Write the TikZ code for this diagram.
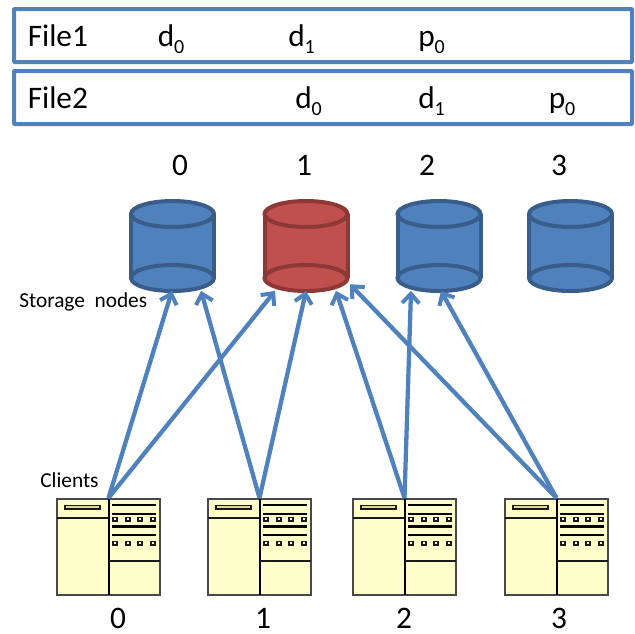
\documentclass[tikz,border=0pt]{standalone}
\usepackage{fontspec}
\setmainfont{Carlito}
\usetikzlibrary{arrows.meta}
\definecolor{fileblue}{HTML}{4F81BD}
\definecolor{cylblue}{HTML}{4F81BD}
\definecolor{cylblueE}{HTML}{385D8A}
\definecolor{cylred}{HTML}{C0504D}
\definecolor{cylredE}{HTML}{8C3836}
\definecolor{clientfill}{HTML}{FFFFCC}
\definecolor{slotfill}{HTML}{DDDD99}
\definecolor{clientedge}{HTML}{1A1A1A}
\newcommand\sbs[1]{\raisebox{-0.23em}{\fontsize{15pt}{16pt}\selectfont #1}}
\newcommand\cyl[4]{%
  \node[minimum width=62.5pt,minimum height=67pt,inner sep=0pt] (#1) at (#2,246) {};
  \fill[#3] (#2-41.5,214) rectangle (#2+41.5,278);
  \draw[cyledge,draw=#4,fill=#3] (#2,278) ellipse [x radius=41.5,y radius=13];
  \draw[cyledge,draw=#4] (#2-41.5,214) -- (#2-41.5,278) (#2+41.5,214) -- (#2+41.5,278);
  \draw[cyledge,draw=#4,fill=#3] (#2,214) ellipse [x radius=41.5,y radius=13];
}
\newcommand\client[2]{%
  \node[clientbox] (#1) at (#2+51.5,547) {};
  \draw[clientline] (#2+52,499) -- (#2+52,595);
  \draw[clientthin] (#2,518) -- (#2+52,518);
  \draw[clientthin] (#2+52,561) -- (#2+103,561);
  \draw[clientthin,fill=slotfill,line width=1.1pt] (#2+8,505.5) rectangle (#2+43,509);
  \foreach \yy in {505,514,526.5,535}
    \draw[clientline,line width=2.1pt] (#2+55,\yy) -- (#2+99,\yy);
  \foreach \yy in {519,543}
    \foreach \xx in {57,70,82,95}
      \draw[clientthin,line width=1.3pt,fill=clientfill] (#2+\xx-1,\yy-1.5) rectangle (#2+\xx+3,\yy+2);
}
\tikzset{
  filebox/.style={draw=fileblue,line width=3pt,rounded corners=0.6pt},
  cyledge/.style={line width=3pt},
  clientbox/.style={draw=clientedge!80!white,fill=clientfill,line width=1.5pt,minimum width=77.25pt,minimum height=72pt,inner sep=0pt},
  clientline/.style={draw=black,line width=1.7pt},
  clientthin/.style={draw=clientedge,line width=1.4pt},
  link/.style={draw=fileblue,line width=3.2pt,-{Straight Barb[length=7pt,width=13pt,line width=3pt]}},
  lab/.style={anchor=base,inner sep=0pt,font=\fontsize{23.5pt}{26pt}\selectfont},
  labw/.style={anchor=base west,inner sep=0pt,font=\fontsize{23.5pt}{26pt}\selectfont},
  small/.style={anchor=base west,inner sep=0pt,font=\fontsize{16pt}{18pt}\selectfont}
}
\begin{document}
\begin{tikzpicture}[x=0.75pt,y=-0.75pt]
\useasboundingbox (0,0) rectangle (635,633);
\draw[filebox] (14,9) rectangle (632,62);
\draw[filebox] (14,71) rectangle (632,124);
\node[labw] (f1) at (27.5,46) {File1};
\node[labw] (f1a) at (157.5,46) {d\sbs{0}};
\node[labw] (f1b) at (288,46) {d\sbs{1}};
\node[labw] (f1c) at (418,46) {p\sbs{0}};
\node[labw] (f2) at (27.5,108) {File2};
\node[labw] (f2a) at (295,108) {d\sbs{0}};
\node[labw] (f2b) at (418,108) {d\sbs{1}};
\node[labw] (f2c) at (548.5,108) {p\sbs{0}};
\node[lab] (n0) at (180,175) {0};
\node[lab] (n1) at (304,175) {1};
\node[lab] (n2) at (427,175) {2};
\node[lab] (n3) at (559,175) {3};
\cyl{s0}{172.5}{cylblue}{cylblueE}
\cyl{s1}{306}{cylred}{cylredE}
\cyl{s2}{439}{cylblue}{cylblueE}
\cyl{s3}{570.5}{cylblue}{cylblueE}
\node[small] (sn) at (19,307) {Storage\ \ nodes};
\node[small] (cl) at (40,487) {Clients};
\client{c0}{57}
\client{c1}{208}
\client{c2}{353}
\client{c3}{505}
\node[lab] (m0) at (118,628) {0};
\node[lab] (m1) at (263,628) {1};
\node[lab] (m2) at (404,628) {2};
\node[lab] (m3) at (559,628) {3};
\draw[link] (c0.north) -- ([xshift=-0.4pt]s0.south);
\draw[link] (c0.north) -- ([xshift=-23.2pt]s1.south);
\draw[link] (c1.north) -- ([xshift=21.4pt]s0.south);
\draw[link] (c1.north) -- (s1.south);
\draw[link] (c2.north) -- ([xshift=22.5pt]s1.south);
\draw[link] (c2.north) -- ([xshift=-21pt]s2.south);
\draw[link] (c3.north) -- ([xshift=33pt,yshift=5pt]s1.south);
\draw[link] (c3.north) -- ([xshift=1.5pt]s2.south);
\end{tikzpicture}
\end{document}
